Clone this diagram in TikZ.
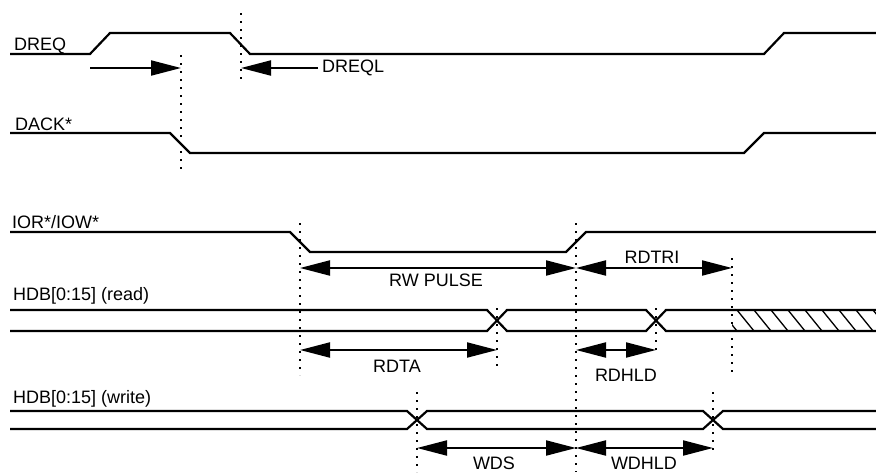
\documentclass[tikz,border=0pt]{standalone}
\usepackage{fontspec}
\setmainfont{Liberation Sans}
\usetikzlibrary{arrows.meta}

\begin{document}
\begin{tikzpicture}[x=1pt,y=-1pt,font=\fontsize{18}{20}\selectfont,
  sig/.style={line width=2.2pt},
  guide/.style={line width=1.8pt,dash pattern=on 1.8pt off 6.2pt},
  hatch/.style={line width=1.3pt},
  arr/.style={-{Triangle[length=30pt,width=15pt]},line width=2pt},
  dim/.style={{Triangle[length=30pt,width=15pt]}-{Triangle[length=30pt,width=15pt]},line width=2pt},
  lbl/.style={inner sep=0pt,anchor=base west},
  val/.style={inner sep=0pt,anchor=base}]
  \useasboundingbox (0,0) rectangle (876,472);
  % time marks
  \coordinate (tA) at (181,0); \coordinate (tB) at (241,0); \coordinate (tC) at (300,0);
  \coordinate (tD) at (417,0); \coordinate (tE) at (497,0); \coordinate (tF) at (576,0);
  \coordinate (tG) at (656,0); \coordinate (tH) at (713,0); \coordinate (tI) at (732,0);
  % dotted guides
  \draw[guide] (tA |- 0,55) -- (tA |- 0,173);
  \draw[guide] (tB |- 0,13) -- (tB |- 0,82);
  \draw[guide] (tC |- 0,223) -- (tC |- 0,375);
  \draw[guide] (tD |- 0,392) -- (tD |- 0,472);
  \draw[guide] (tE |- 0,308) -- (tE |- 0,368);
  \draw[guide] (tF |- 0,223) -- (tF |- 0,472);
  \draw[guide] (tG |- 0,308) -- (tG |- 0,355);
  \draw[guide] (tH |- 0,392) -- (tH |- 0,452);
  \draw[guide] (tI |- 0,258) -- (tI |- 0,377);
  % signal names
  \node[lbl] (dreq) at (14,50) {DREQ};
  \node[lbl] (dack) at (15,130) {DACK*};
  \node[lbl] (iorw) at (12,228) {IOR*/IOW*};
  \node[lbl] (hdbr) at (13,300) {HDB[0:15] (read)};
  \node[lbl] (hdbw) at (13,403) {HDB[0:15] (write)};
  % waveforms
  \draw[sig] (10,54) -- (90,54) -- (110,33) -- (230,33) -- (250,54) -- (764,54) -- (784,33) -- (876,33);
  \draw[sig] (10,133) -- (170,133) -- (190,153) -- (744,153) -- (764,133) -- (876,133);
  \draw[sig] (10,232) -- (290,232) -- (310,252) -- (566,252) -- (586,232) -- (876,232);
  \draw[sig] (10,310) -- (487,310) -- (507,331) -- (646,331) -- (666,310) -- (876,310);
  \draw[sig] (10,331) -- (487,331) -- (507,310) -- (646,310) -- (666,331) -- (876,331);
  \begin{scope}
    \clip (tI |- 0,310) rectangle (876,331);
    \foreach \x in {720,737,...,890} \draw[hatch] (\x,310) -- ++(17,21);
  \end{scope}
  \draw[sig] (10,411) -- (407,411) -- (427,429) -- (703,429) -- (723,411) -- (876,411);
  \draw[sig] (10,429) -- (407,429) -- (427,411) -- (703,411) -- (723,429) -- (876,429);
  % timing arrows
  \draw[arr] (90,68) -- (tA |- 0,68);
  \node[anchor=west,inner xsep=4pt,inner ysep=0pt] (dreql) at (318,68) {DREQL};
  \draw[arr] (dreql.west) -- (tB |- dreql.west);
  \draw[dim] (tC |- 0,268) -- (tF |- 0,268);
  \draw[dim] (tF |- 0,268) -- (tI |- 0,268);
  \node[val] (rwp) at (436,286) {RW PULSE};
  \node[val] (rdtri) at (652,263) {RDTRI};
  \draw[dim] (tC |- 0,350) -- (tE |- 0,350);
  \draw[dim] (tF |- 0,350) -- (tG |- 0,350);
  \node[val] (rdta) at (397,372) {RDTA};
  \node[val] (rdhld) at (626,381) {RDHLD};
  \draw[dim] (tD |- 0,448) -- (tF |- 0,448);
  \draw[dim] (tF |- 0,448) -- (tH |- 0,448);
  \node[val] (wds) at (494,469) {WDS};
  \node[val] (wdhld) at (644,469) {WDHLD};
\end{tikzpicture}
\end{document}
